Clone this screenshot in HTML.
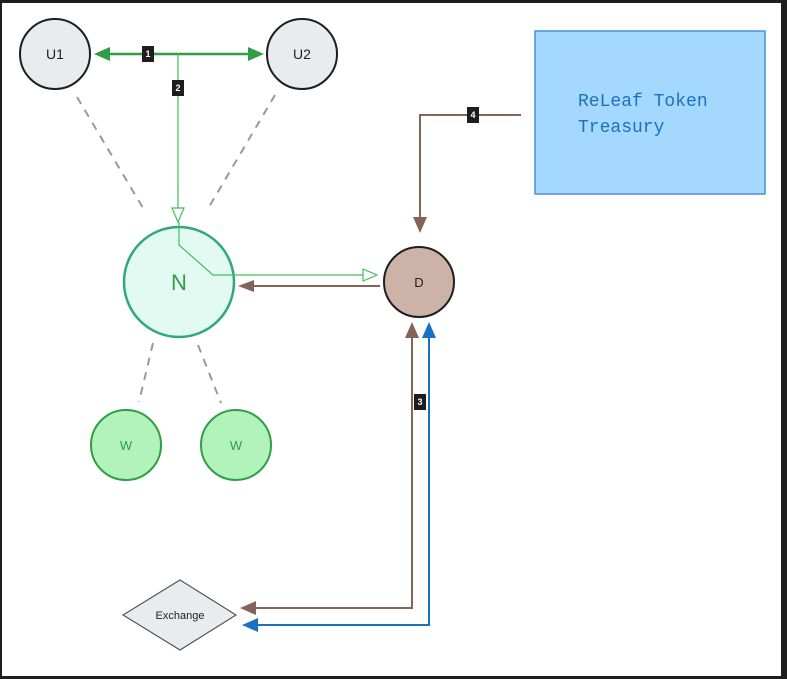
<!DOCTYPE html>
<html><head><style>
body{margin:0;background:#1e1e1e;}
svg{display:block}
text{font-family:"Liberation Sans",sans-serif}
text.mono{font-family:"Liberation Mono",monospace}
</style></head><body>
<svg width="787" height="679" viewBox="0 0 787 679">
<rect x="0" y="0" width="787" height="679" fill="#1e1e1e"/>
<rect x="2" y="3" width="779" height="673" fill="#ffffff"/>
<g stroke="#999" stroke-width="2" stroke-dasharray="8,7" fill="none">
<line x1="77" y1="97" x2="143" y2="208"/>
<line x1="275" y1="95" x2="209" y2="207"/>
<line x1="153" y1="343" x2="139" y2="402"/>
<line x1="198" y1="345" x2="221" y2="403"/>
</g>
<circle cx="55" cy="54" r="35" fill="#e9ecef" stroke="#1e1e1e" stroke-width="2"/>
<text x="55" y="59" font-size="14" text-anchor="middle" fill="#1e1e1e">U1</text>
<circle cx="302" cy="54" r="35" fill="#e9ecef" stroke="#1e1e1e" stroke-width="2"/>
<text x="302" y="59" font-size="14" text-anchor="middle" fill="#1e1e1e">U2</text>
<line x1="108" y1="54" x2="250" y2="54" stroke="#2f9e44" stroke-width="2.5"/>
<path d="M94,54 L110,47 L110,61z" fill="#2f9e44"/>
<path d="M264,54 L248,47 L248,61z" fill="#2f9e44"/>
<line x1="178" y1="54" x2="178" y2="208" stroke="#40c057" stroke-width="1.2"/>
<path d="M172,208 L184,208 L178,222z" fill="#fff" stroke="#40c057" stroke-width="1.2"/>
<circle cx="179" cy="282" r="55" fill="#e3faf2" stroke="#2fa87a" stroke-width="2.5"/>
<text x="179" y="290" font-size="22" text-anchor="middle" fill="#2f9e44">N</text>
<polyline points="179,222 179,245 213,275 363,275" fill="none" stroke="#40c057" stroke-width="1.2"/>
<path d="M363,269 L363,281 L377,275z" fill="#fff" stroke="#40c057" stroke-width="1.2"/>
<line x1="380" y1="286" x2="250" y2="286" stroke="#846358" stroke-width="2"/>
<path d="M238,286 L254,280 L254,292z" fill="#846358"/>
<circle cx="419" cy="282" r="35" fill="#ccb2a7" stroke="#1e1e1e" stroke-width="2"/>
<text x="419" y="287" font-size="13" text-anchor="middle" fill="#1e1e1e">D</text>
<circle cx="126" cy="445" r="35" fill="#b2f2bb" stroke="#2f9e44" stroke-width="2"/>
<text x="126" y="450" font-size="13" text-anchor="middle" fill="#2f9e44">W</text>
<circle cx="236" cy="445" r="35" fill="#b2f2bb" stroke="#2f9e44" stroke-width="2"/>
<text x="236" y="450" font-size="13" text-anchor="middle" fill="#2f9e44">W</text>
<rect x="535" y="31" width="230" height="163" fill="#a5d8ff" stroke="#4a90d9" stroke-width="1.5"/>
<text class="mono" x="578" y="106" font-size="18" fill="#1971c2">ReLeaf Token</text>
<text class="mono" x="578" y="132" font-size="18" fill="#1971c2">Treasury</text>
<polyline points="521,115 420,115 420,218" fill="none" stroke="#846358" stroke-width="2"/>
<path d="M420,233 L413,217 L427,217z" fill="#846358"/>
<polyline points="412,335 412,608 254,608" fill="none" stroke="#846358" stroke-width="2"/>
<path d="M412,322 L405,338 L419,338z" fill="#846358"/>
<path d="M240,608 L256,601 L256,615z" fill="#846358"/>
<polyline points="429,335 429,625 256,625" fill="none" stroke="#1971c2" stroke-width="2"/>
<path d="M429,322 L422,338 L436,338z" fill="#1971c2"/>
<path d="M242,625 L258,618 L258,632z" fill="#1971c2"/>
<path d="M180,580 L236,615 L180,650 L123,615z" fill="#e9ecef" stroke="#555" stroke-width="1.2"/>
<text x="180" y="619" font-size="11" text-anchor="middle" fill="#1e1e1e">Exchange</text>
<g font-size="9" font-weight="bold" fill="#fff" text-anchor="middle">
<rect x="142" y="46" width="12" height="16" fill="#1e1e1e"/><text x="148" y="57">1</text>
<rect x="172" y="80" width="12" height="16" fill="#1e1e1e"/><text x="178" y="91">2</text>
<rect x="414" y="394" width="12" height="16" fill="#1e1e1e"/><text x="420" y="405">3</text>
<rect x="467" y="107" width="12" height="16" fill="#1e1e1e"/><text x="473" y="118">4</text>
</g>
</svg>
</body></html>
